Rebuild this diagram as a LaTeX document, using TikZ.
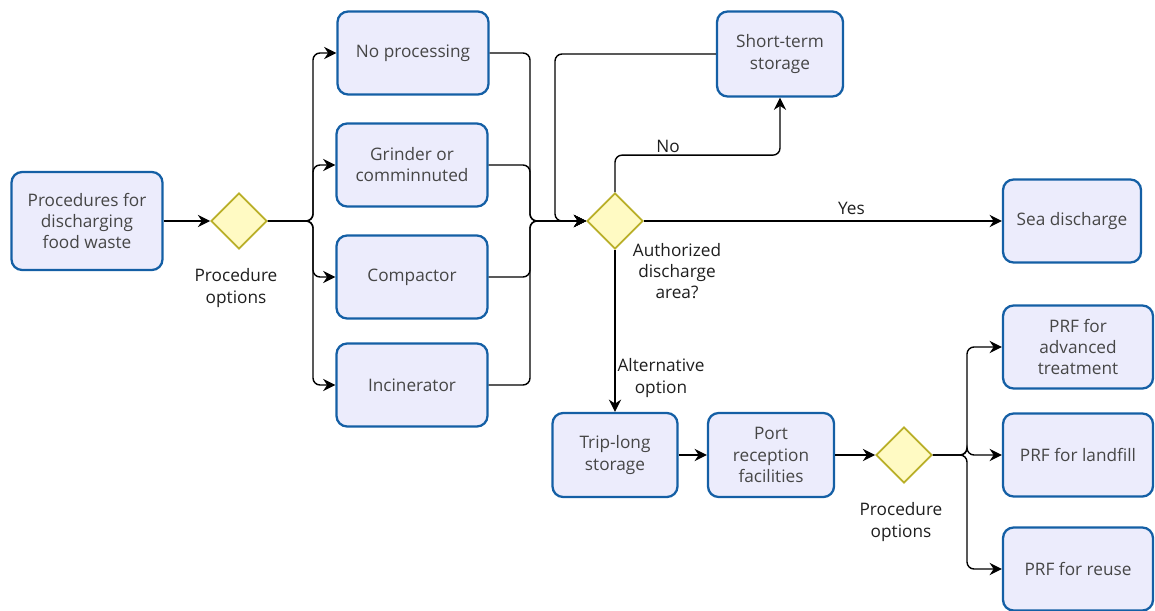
\documentclass[tikz,border=0pt]{standalone}
\usepackage{fontspec}
\setmainfont{Open Sans}
\usetikzlibrary{arrows.meta,shapes.geometric}

\definecolor{boxline}{RGB}{20,95,165}
\definecolor{boxfill}{RGB}{236,236,252}
\definecolor{gateline}{RGB}{185,175,40}
\definecolor{gatefill}{RGB}{255,250,195}
\definecolor{boxtext}{RGB}{70,70,70}
\definecolor{lbltext}{RGB}{30,30,30}

\begin{document}
\begin{tikzpicture}[x=0.02cm, y=-0.02cm,
  font=\fontsize{9.8}{12}\selectfont,
  proc/.style={draw=boxline, fill=boxfill, line width=1.3pt, rounded corners=6pt, align=center, text=boxtext, minimum width=3.02cm, minimum height=1.66cm, inner sep=2pt},
  gate/.style={diamond, draw=gateline, fill=gatefill, line width=1pt, minimum width=1.12cm, minimum height=1.12cm, inner sep=0pt},
  lbl/.style={align=center, text=lbltext},
  flow/.style={-{Stealth[length=7pt,width=7pt]}, line width=0.8pt, rounded corners=4pt},
]
\useasboundingbox (0,0) rectangle (1155,611);
% Source and first choice
\node[proc, minimum height=1.96cm] (src) at (87,221) {Procedures for\\discharging\\food waste};
\node[gate] (opt) at (239,221) {};
\node[lbl] at (236,288) {Procedure\\options};
% On-board processing
\node[proc] (nop) at (413,53) {No processing};
\node[proc] (grd) at (412,165) {Grinder or\\comminnuted};
\node[proc] (cmp) at (412,277) {Compactor};
\node[proc] (inc) at (412,385) {Incinerator};
% Discharge decision
\node[gate] (auth) at (615,221) {};
\node[lbl] at (677,271) {Authorized\\discharge\\area?};
\node[proc, minimum width=2.52cm, minimum height=1.7cm] (sts) at (780,54) {Short-term\\storage};
\node[proc, minimum width=2.76cm] (sea) at (1072,221) {Sea discharge};
% Port side
\node[proc, minimum width=2.5cm, minimum height=1.68cm] (trip) at (615,455) {Trip-long\\storage};
\node[proc, minimum width=2.52cm, minimum height=1.68cm] (prf) at (771,455) {Port\\reception\\facilities};
\node[gate] (opt2) at (904,455) {};
\node[lbl] at (901,522) {Procedure\\options};
\node[proc, minimum width=3.0cm] (adv) at (1078,347) {PRF for\\advanced\\treatment};
\node[proc, minimum width=3.0cm] (lnd) at (1078,455) {PRF for landfill};
\node[proc, minimum width=3.0cm] (reu) at (1078,569) {PRF for reuse};
% Junction points
\coordinate (fork) at (313,221);
\coordinate (join) at (530,221);
\coordinate (back) at (555,221);
\coordinate (fork2) at (967,455);
% Connectors
\draw[flow] (src) -- (opt);
\foreach \n in {nop,grd,cmp,inc} \draw[flow] (opt.east) -- (fork) |- (\n.west);
\foreach \n in {nop,grd,cmp,inc} \draw[flow] (\n.east) -| (join) -- (auth.west);
\draw[flow] (sts.west) -| (back) -- (auth.west);
\draw[flow] (auth.north) -- ++(0,-37) -| (sts.south);
\node[lbl] at (668,146) {No};
\draw[flow] (auth.east) -- (sea.west) node[lbl, pos=0.58, above] {Yes};
\draw[flow] (auth.south) -- (trip.north);
\node[lbl] at (661,378) {Alternative\\option};
\draw[flow] (trip) -- (prf);
\draw[flow] (prf) -- (opt2);
\foreach \n in {adv,lnd,reu} \draw[flow] (opt2.east) -- (fork2) |- (\n.west);
\end{tikzpicture}
\end{document}
